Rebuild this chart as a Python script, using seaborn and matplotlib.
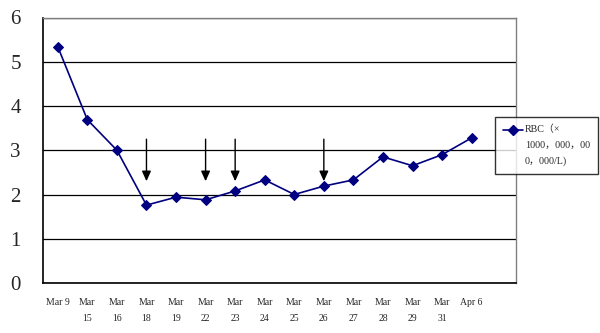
import numpy as np
import pandas as pd
import matplotlib
matplotlib.use("Agg")
import matplotlib.pyplot as plt
import seaborn as sns
from matplotlib.lines import Line2D
from matplotlib.legend_handler import HandlerLine2D

# data
dates = ["Mar 9", "Mar 15", "Mar 16", "Mar 18", "Mar 19", "Mar 22", "Mar 23", "Mar 24",
         "Mar 25", "Mar 26", "Mar 27", "Mar 28", "Mar 29", "Mar 31", "Apr 6"]
rbc = [5.34, 3.69, 3.0, 1.76, 1.94, 1.88, 2.08, 2.33, 2.0, 2.19, 2.33, 2.85, 2.65, 2.9, 3.28]
arrow_dates = ["Mar 18", "Mar 22", "Mar 23", "Mar 26"]
arrow_top = 3.25
arrow_tip = 2.3
y_ticks = [0, 1, 2, 3, 4, 5, 6]
legend_label = "RBC（×\n1000，000，00\n0，000/L)"

df = pd.DataFrame({"date": dates, "rbc": rbc})
df["pos"] = np.arange(len(df))


# legend marker sits on the first text line, like the original
class TopLineHandler(HandlerLine2D):
    def create_artists(self, legend, orig_handle, xdescent, ydescent, width, height, fontsize, trans):
        arts = super().create_artists(legend, orig_handle, xdescent, ydescent, width, height, fontsize, trans)
        for a in arts:
            a.set_ydata(np.asarray(a.get_ydata()) + 10.8)
        return arts


sns.set_style("white")
plt.rcParams["font.family"] = ["Liberation Serif", "Noto Sans CJK SC", "DejaVu Sans"]

fig = plt.figure(figsize=(6, 3.33), dpi=100)
ax = fig.add_axes([43/600, 50/333, (516-43)/600, (283-17.5)/333])

sns.lineplot(data=df, x="pos", y="rbc", ax=ax, color="#000080", marker="D",
             markersize=5, markeredgecolor="#000080", linewidth=1.2, sort=False)

# arrows marking the treatment days
for d in arrow_dates:
    p = df.loc[df["date"] == d, "pos"].iloc[0]
    ax.annotate("", xy=(p, arrow_tip), xytext=(p, arrow_top),
                arrowprops=dict(arrowstyle="-|>,head_length=0.6,head_width=0.27",
                                color="black", lw=1.0, shrinkA=0, shrinkB=0))

ax.set_ylim(0, 6)
ax.set_xlim(-0.5, len(dates) + 0.5)
ax.set_yticks(y_ticks)
ax.set_yticklabels([str(t) for t in y_ticks], fontsize=15)
ax.tick_params(axis="y", length=0, pad=16)
ax.yaxis.grid(True, color="black", linewidth=0.9)
ax.set_axisbelow(True)

# category boundaries as ticks, labels centred on the points
ax.set_xticks(np.arange(-0.5, len(dates) + 1, 1.0))
ax.set_xticklabels([])
ax.tick_params(axis="x", which="major", direction="out", length=5, width=1, color="black")
ax.set_xticks(df["pos"], minor=True)
ax.set_xticklabels([d if len(d) <= 5 else d.replace(" ", "\n") for d in dates],
                   minor=True, fontsize=7, va="top", linespacing=1.9)
ax.tick_params(axis="x", which="minor", length=0, pad=11)

ax.set_xlabel("")
ax.set_ylabel("")
for s in ["left", "bottom"]:
    ax.spines[s].set_color("black")
    ax.spines[s].set_linewidth(1.2)
for s in ["top", "right"]:
    ax.spines[s].set_color("#808080")
    ax.spines[s].set_linewidth(1.0)

handle = Line2D([], [], color="#000080", marker="D", markersize=5, linewidth=1.2)
leg = fig.legend([handle], [legend_label], loc="upper left",
                 bbox_to_anchor=(495/600, 1 - 117/333), frameon=True, fancybox=False,
                 borderaxespad=0, fontsize=7.2, handlelength=2.05, handletextpad=0.2,
                 borderpad=0.75, labelspacing=0.3,
                 handler_map={Line2D: TopLineHandler()})
leg.get_frame().set_edgecolor("black")
leg.get_frame().set_linewidth(1.0)
for t in leg.get_texts():
    t.set_linespacing(1.95)

fig.savefig("out.png", dpi=100)
